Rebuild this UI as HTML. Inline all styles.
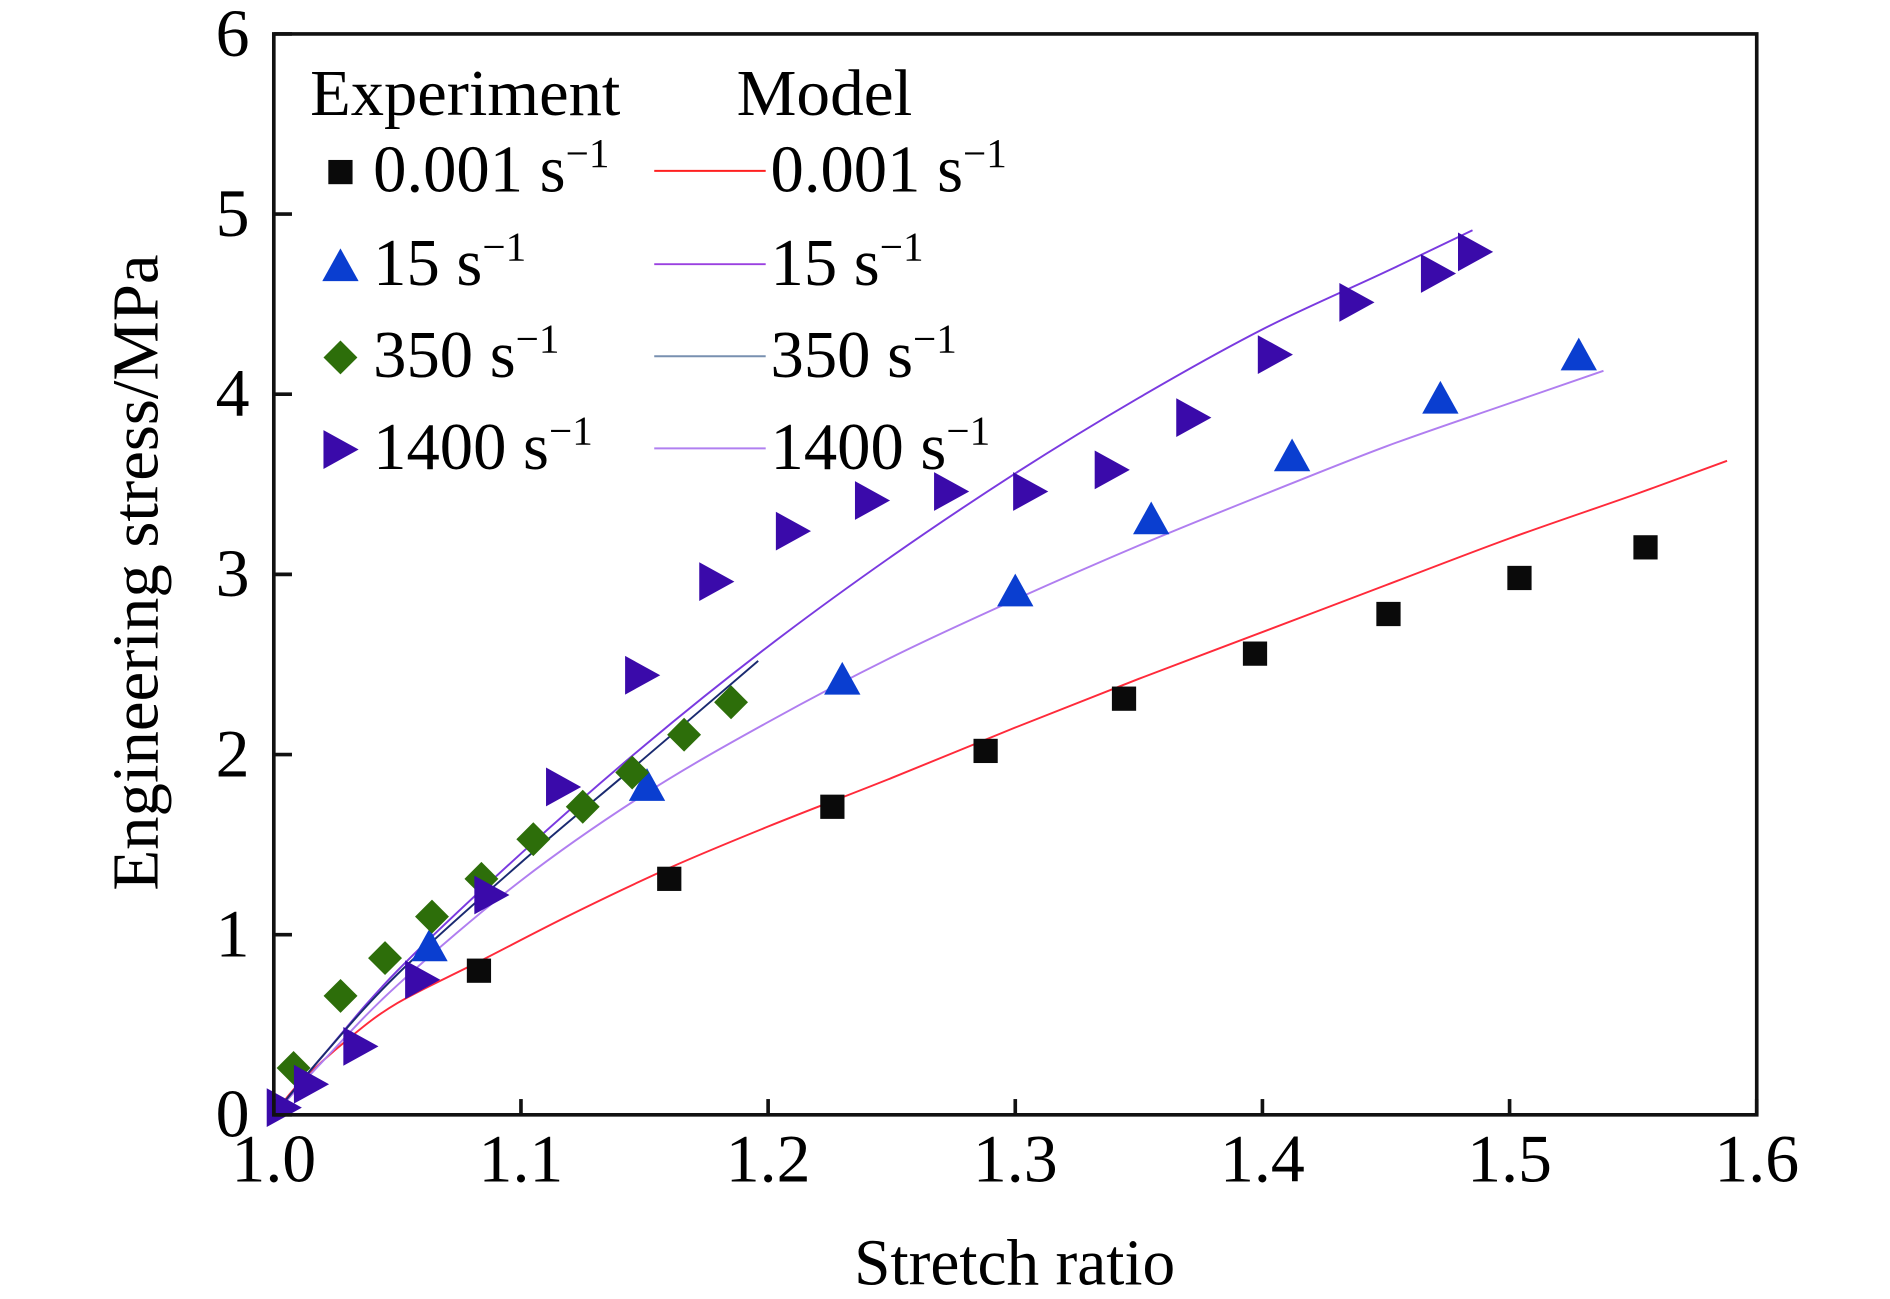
<!DOCTYPE html>
<html><head><meta charset="utf-8"><style>
html,body{margin:0;padding:0;background:#fff;}
svg{display:block;}
text{font-family:"Liberation Serif",serif;fill:#000;}
</style></head><body>
<svg id="chart" width="1890" height="1299" viewBox="0 0 1560 1072" preserveAspectRatio="none" xmlns="http://www.w3.org/2000/svg">
<g id="curves"></g>
<g id="marks"></g>
<g id="axes"></g>
<g id="legend"></g>
</svg>
<script>
const xTicks=[1.0,1.1,1.2,1.3,1.4,1.5,1.6];
const xTickLabels=["1.0","1.1","1.2","1.3","1.4","1.5","1.6"];
const yTicks=[0,1,2,3,4,5,6];
const yTickLabels=["0","1","2","3","4","5","6"];
const sqX=[1.083,1.160,1.226,1.288,1.344,1.397,1.451,1.504,1.555];
const sqY=[0.80,1.31,1.71,2.02,2.31,2.56,2.78,2.98,3.15];
const triX=[1.063,1.151,1.230,1.300,1.355,1.412,1.472,1.528];
const triY=[0.94,1.83,2.42,2.91,3.31,3.66,3.98,4.22];
const diaX=[1.008,1.027,1.045,1.064,1.084,1.105,1.125,1.145,1.166,1.185];
const diaY=[0.26,0.66,0.87,1.10,1.31,1.53,1.71,1.90,2.11,2.29];
const rtX=[1.004,1.015,1.035,1.060,1.088,1.117,1.149,1.179,1.210,1.242,1.274,1.306,1.339,1.372,1.405,1.438,1.471,1.486];
const rtY=[0.04,0.17,0.38,0.75,1.22,1.82,2.44,2.96,3.24,3.41,3.46,3.46,3.58,3.87,4.22,4.51,4.67,4.79];
const m001X=[1.0,1.01,1.03,1.05,1.083,1.12,1.16,1.2,1.25,1.3,1.35,1.4,1.45,1.5,1.55,1.588];
const m001Y=[0,0.17,0.42,0.62,0.85,1.11,1.37,1.6,1.87,2.15,2.42,2.68,2.94,3.2,3.44,3.63];
const m15X=[1.0,1.02,1.05,1.1,1.15,1.2,1.25,1.3,1.35,1.4,1.45,1.5,1.538];
const m15Y=[0,0.3,0.72,1.3,1.78,2.18,2.54,2.86,3.16,3.44,3.71,3.95,4.13];
const m350X=[1.0,1.02,1.05,1.1,1.15,1.196];
const m350Y=[0,0.33,0.78,1.4,1.98,2.52];
const m1400X=[1.0,1.02,1.05,1.1,1.15,1.2,1.25,1.3,1.35,1.4,1.45,1.485];
const m1400Y=[0,0.33,0.8,1.45,2.05,2.6,3.1,3.56,3.98,4.36,4.68,4.91];

const NS="http://www.w3.org/2000/svg";
const L=226,R=1450,T=28,B=920;
function sx(v){return L+(v-1.0)/0.6*(R-L);}
function sy(v){return B-v/6*(B-T);}
function mk(tag,attrs,parent){const e=document.createElementNS(NS,tag);for(const k in attrs)e.setAttribute(k,attrs[k]);parent.appendChild(e);return e;}
const axes=document.getElementById('axes'),curves=document.getElementById('curves'),marks=document.getElementById('marks'),legend=document.getElementById('legend');

const frame=mk('rect',{x:L,y:T,width:R-L,height:B-T,fill:'none',stroke:'#111','stroke-width':3},axes);


xTicks.forEach((v,i)=>{
  const t=mk('line',{x1:sx(v),x2:sx(v),y1:B,y2:B-13,stroke:'#111','stroke-width':3},axes);
  
  
  const lb=mk('text',{x:sx(v),y:975,'text-anchor':'middle','font-size':56},axes);
  lb.textContent=xTickLabels[i];
  
  
});
yTicks.forEach((v,i)=>{
  const t=mk('line',{x1:L,x2:L+15,y1:sy(v),y2:sy(v),stroke:'#111','stroke-width':3},axes);
  
  
  const lb=mk('text',{x:206,y:sy(v)+18,'text-anchor':'end','font-size':56},axes);
  lb.textContent=yTickLabels[i];
  
  
});
const xt=mk('text',{x:705,y:1060,'font-size':54,textLength:265,lengthAdjust:'spacingAndGlyphs'},axes);
xt.textContent='Stretch ratio';


const yt=mk('text',{x:-735,y:130,'font-size':54,textLength:525,lengthAdjust:'spacingAndGlyphs',transform:'rotate(-90)'},axes);
yt.textContent='Engineering stress/MPa';



function smoothPath(xs,ys){
  const p=xs.map((x,i)=>[sx(x),sy(ys[i])]);
  let d='M'+p[0][0].toFixed(1)+','+p[0][1].toFixed(1);
  for(let i=0;i<p.length-1;i++){
    const p0=p[Math.max(0,i-1)],p1=p[i],p2=p[i+1],p3=p[Math.min(p.length-1,i+2)];
    const c1=[p1[0]+(p2[0]-p0[0])/6,p1[1]+(p2[1]-p0[1])/6];
    const c2=[p2[0]-(p3[0]-p1[0])/6,p2[1]-(p3[1]-p1[1])/6];
    d+=' C'+c1.map(v=>v.toFixed(1)).join(',')+' '+c2.map(v=>v.toFixed(1)).join(',')+' '+p2.map(v=>v.toFixed(1)).join(',');
  }
  return d;
}
function curve(xs,ys,color,name){
  const p=mk('path',{d:smoothPath(xs,ys),fill:'none',stroke:color,'stroke-width':1.6},curves);
  
  
}
curve(m001X,m001Y,'#ff2a3a','model-curve-0.001');
curve(m15X,m15Y,'#b07ef0','model-curve-15');
curve(m1400X,m1400Y,'#7a3ae0','model-curve-1400');
curve(m350X,m350Y,'#1a2a70','model-curve-350');

function marker(type,x,y,parent){
  let e;
  if(type==='sq') e=mk('rect',{x:x-10,y:y-10,width:20,height:20,fill:'#0a0a0a'},parent);
  else if(type==='tri') e=mk('polygon',{points:`${x},${y-14} ${x-15},${y+13} ${x+15},${y+13}`,fill:'#0a3ed0'},parent);
  else if(type==='dia') e=mk('polygon',{points:`${x},${y-14} ${x+14},${y} ${x},${y+14} ${x-14},${y}`,fill:'#2d6e0a'},parent);
  else e=mk('polygon',{points:`${x-14},${y-16} ${x+15},${y} ${x-14},${y+16}`,fill:'#3a0aaa'},parent);
  return e;
}
sqX.forEach((v,i)=>{const e=marker('sq',sx(v),sy(sqY[i]),marks);
  
  });
triX.forEach((v,i)=>{const e=marker('tri',sx(v),sy(triY[i]),marks);
  
  });
diaX.forEach((v,i)=>{const e=marker('dia',sx(v),sy(diaY[i]),marks);
  
  });
rtX.forEach((v,i)=>{const e=marker('rt',sx(v),sy(rtY[i]),marks);
  
  });

// legend
const h1=mk('text',{x:256,y:95,'font-size':54,textLength:256,lengthAdjust:'spacingAndGlyphs'},legend);h1.textContent='Experiment';


const h2=mk('text',{x:608,y:95,'font-size':54,textLength:145,lengthAdjust:'spacingAndGlyphs'},legend);h2.textContent='Model';


const labs=['0.001','15','350','1400'];
const types=['sq','tri','dia','rt'];
const lcols=['#ff2020','#9a40e0','#7890b0','#b080f0'];
const rows=[158,235,311,387];
labs.forEach((lab,i)=>{
  const y=rows[i];
  const m=marker(types[i],281,y-16,legend);
  
  
  const t=mk('text',{x:308,y:y,'font-size':55},legend);
  t.innerHTML=lab+' s<tspan dy="-20" font-size="34">−1</tspan>';
  
  
  const ln=mk('line',{x1:540,x2:632,y1:y-17,y2:y-17,stroke:lcols[i],'stroke-width':1.6},legend);
  
  
  const t2=mk('text',{x:636,y:y,'font-size':55},legend);
  t2.innerHTML=lab+' s<tspan dy="-20" font-size="34">−1</tspan>';
  
  
});
</script>
</body></html>
